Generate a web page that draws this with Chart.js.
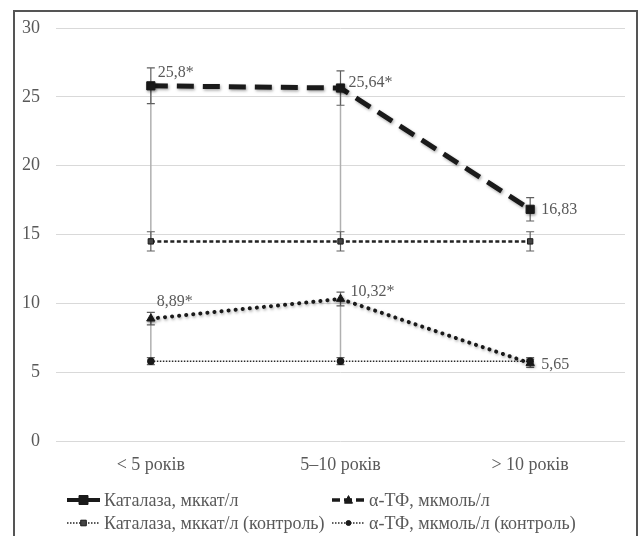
<!DOCTYPE html>
<html>
<head>
<meta charset="utf-8">
<script src="https://cdn.jsdelivr.net/npm/chart.js@4.4.1/dist/chart.umd.min.js"></script>
<style>
  html, body { margin: 0; padding: 0; background: #fff; }
  #wrap { position: relative; width: 643px; height: 536px; }
</style>
</head>
<body>
<div id="wrap"><canvas id="myChartLine" width="643" height="536"></canvas></div>
<script>
var categories = ['< 5 років', '5–10 років', '> 10 років'];
var catalase = [25.8, 25.64, 16.83];
var catalaseErr = [1.3, 1.25, 0.85];
var catalaseLabels = ['25,8*', '25,64*', '16,83'];
var catalaseControl = [14.5, 14.5, 14.5];
var catalaseControlErr = [0.7, 0.7, 0.7];
var tf = [8.89, 10.32, 5.65];
var tfErr = [0.45, 0.5, 0.3];
var tfLabels = ['8,89*', '10,32*', '5,65'];
var tfControl = [5.8, 5.8, 5.8];
var tfControlErr = [0.25, 0.25, 0.25];
var significant = [true, true, false];
var yTicks = [0, 5, 10, 15, 20, 25, 30];

var FONT = "'Liberation Serif', 'Times New Roman', serif";
var TXT = '#595959';

// вертикальна лінія з "вусами"
function drawErrBar(ctx, x, yScale, v, e) {
    var top = yScale.getPixelForValue(v + e);
    var bot = yScale.getPixelForValue(v - e);
    ctx.beginPath();
    ctx.moveTo(x, top); ctx.lineTo(x, bot);
    ctx.moveTo(x - 4, top); ctx.lineTo(x + 4, top);
    ctx.moveTo(x - 4, bot); ctx.lineTo(x + 4, bot);
    ctx.stroke();
}

function drawMarker(ctx, style, x, y, r) {
    ctx.beginPath();
    if (style === 'rect') {
        ctx.rect(x - r, y - r, 2 * r, 2 * r);
    } else if (style === 'triangle') {
        ctx.moveTo(x, y - r * 1.1);
        ctx.lineTo(x + r, y + r * 0.8);
        ctx.lineTo(x - r, y + r * 0.8);
        ctx.closePath();
    } else {
        ctx.arc(x, y, r, 0, Math.PI * 2);
    }
    ctx.fill();
    ctx.stroke();
}

var extras = {
    id: 'extras',
    beforeDraw: function(chart) {
        var ctx = chart.ctx;
        ctx.save();
        ctx.strokeStyle = '#555';
        ctx.lineWidth = 2;
        ctx.strokeRect(14, 11, 623, 560);
        ctx.restore();
    },
    beforeDatasetsDraw: function(chart) {
        var ctx = chart.ctx;
        var y = chart.scales.y;
        ctx.save();
        // сірі лінії між показником і контролем
        ctx.strokeStyle = '#b0b0b0';
        ctx.lineWidth = 1.5;
        [[0, 2], [1, 3]].forEach(function(pair) {
            var a = chart.getDatasetMeta(pair[0]).data;
            var dsA = chart.data.datasets[pair[0]].data;
            var dsB = chart.data.datasets[pair[1]].data;
            for (var i = 0; i < a.length; i++) {
                if (!significant[i]) continue;
                ctx.beginPath();
                ctx.moveTo(a[i].x, y.getPixelForValue(dsA[i]));
                ctx.lineTo(a[i].x, y.getPixelForValue(dsB[i]));
                ctx.stroke();
            }
        });
        ctx.strokeStyle = '#606060';
        ctx.lineWidth = 1.2;
        chart.data.datasets.forEach(function(ds, k) {
            var pts = chart.getDatasetMeta(k).data;
            pts.forEach(function(p, i) {
                drawErrBar(ctx, p.x, y, ds.data[i], ds.errors[i]);
            });
        });
        ctx.restore();
    },
    beforeDatasetDraw: function(chart, args) {
        if (args.index < 2) {
            var ctx = chart.ctx;
            ctx.shadowColor = 'rgba(0,0,0,0.35)';
            ctx.shadowBlur = 3;
            ctx.shadowOffsetX = 1;
            ctx.shadowOffsetY = 1.5;
        }
    },
    afterDatasetDraw: function(chart) {
        var ctx = chart.ctx;
        ctx.shadowColor = 'transparent';
        ctx.shadowBlur = 0;
        ctx.shadowOffsetX = 0;
        ctx.shadowOffsetY = 0;
    },
    afterDatasetsDraw: function(chart) {
        var ctx = chart.ctx;
        ctx.save();
        ctx.font = '16px ' + FONT;
        ctx.fillStyle = TXT;
        ctx.textAlign = 'left';
        ctx.textBaseline = 'middle';
        chart.data.datasets.forEach(function(ds, k) {
            if (!ds.valueLabels) return;
            chart.getDatasetMeta(k).data.forEach(function(p, i) {
                ctx.fillText(ds.valueLabels[i], p.x + ds.labelShift[i][0], p.y + ds.labelShift[i][1]);
            });
        });
        ctx.restore();
    },
    afterDraw: function(chart) {
        // легенда у дві колонки
        var ctx = chart.ctx;
        var slots = [[67, 500], [332, 500], [67, 523], [332, 523]];
        ctx.save();
        chart.data.datasets.forEach(function(ds, k) {
            var x = slots[k][0], y = slots[k][1];
            ctx.strokeStyle = ds.borderColor;
            ctx.lineWidth = ds.legendWidth;
            ctx.setLineDash(ds.legendDash);
            ctx.lineCap = 'butt';
            ctx.beginPath();
            ctx.moveTo(x, y); ctx.lineTo(x + 33, y);
            ctx.stroke();
            ctx.setLineDash([]);
            ctx.fillStyle = ds.pointBackgroundColor;
            ctx.strokeStyle = ds.pointBorderColor;
            ctx.lineWidth = 1;
            drawMarker(ctx, ds.pointStyle, x + 16.5, y, ds.legendRadius);
            ctx.fillStyle = TXT;
            ctx.font = '18px ' + FONT;
            ctx.textAlign = 'left';
            ctx.textBaseline = 'middle';
            ctx.fillText(ds.label, x + 37, y + 1);
        });
        ctx.restore();
    }
};

var ctxLine = document.getElementById('myChartLine');
var myChartLine = new Chart(ctxLine, {
    type: 'line',
    data: {
        labels: categories,
        datasets: [{
            label: 'Каталаза, мккат/л',
            data: catalase,
            errors: catalaseErr,
            valueLabels: catalaseLabels,
            labelShift: [[7, -13], [8, -5], [11, 0]],
            borderColor: '#1a1a1a',
            borderWidth: 5,
            borderDash: [17, 9],
            pointStyle: 'rect',
            pointRadius: 5.8,
            pointBorderWidth: 1,
            pointBackgroundColor: '#1a1a1a',
            pointBorderColor: '#1a1a1a',
            legendWidth: 4,
            legendDash: [],
            legendRadius: 4.5
        }, {
            label: 'α-ТФ, мкмоль/л',
            data: tf,
            errors: tfErr,
            valueLabels: tfLabels,
            labelShift: [[6, -17], [10, -7], [11, 2]],
            borderColor: '#1a1a1a',
            borderWidth: 4,
            borderDash: [0.1, 7],
            borderCapStyle: 'round',
            pointStyle: 'triangle',
            pointRadius: 4.8,
            pointBorderWidth: 1,
            pointBackgroundColor: '#1a1a1a',
            pointBorderColor: '#1a1a1a',
            legendWidth: 3.5,
            legendDash: [8, 4],
            legendRadius: 4
        }, {
            label: 'Каталаза, мккат/л (контроль)',
            data: catalaseControl,
            errors: catalaseControlErr,
            borderColor: '#222',
            borderWidth: 2.5,
            borderDash: [4, 2.5],
            pointStyle: 'rect',
            pointRadius: 3.8,
            pointBorderWidth: 1,
            pointBackgroundColor: '#444',
            pointBorderColor: '#1a1a1a',
            legendWidth: 1.5,
            legendDash: [1.5, 1.5],
            legendRadius: 2.8
        }, {
            label: 'α-ТФ, мкмоль/л (контроль)',
            data: tfControl,
            errors: tfControlErr,
            borderColor: '#2a2a2a',
            borderWidth: 1.5,
            borderDash: [1.5, 1.5],
            pointStyle: 'circle',
            pointRadius: 3,
            pointBackgroundColor: '#1a1a1a',
            pointBorderColor: '#1a1a1a',
            legendWidth: 1.5,
            legendDash: [1.5, 1.5],
            legendRadius: 2.5
        }]
    },
    options: {
        responsive: false,
        animation: false,
        devicePixelRatio: 1,
        layout: { padding: { left: 0, right: 18, top: 28, bottom: 0 } },
        plugins: {
            legend: { display: false },
            tooltip: { enabled: false }
        },
        elements: { line: { tension: 0 } },
        scales: {
            x: {
                offset: true,
                grid: { display: false },
                border: { display: false },
                ticks: { color: TXT, font: { family: FONT, size: 18 }, padding: 5 },
                afterFit: function(s) { s.height = 95; }
            },
            y: {
                min: 0,
                max: 30,
                grid: { color: '#d9d9d9', lineWidth: 1, drawTicks: false },
                border: { display: false },
                ticks: { color: TXT, font: { family: FONT, size: 18 }, padding: 16 },
                afterBuildTicks: function(s) { s.ticks = yTicks.map(function(v) { return { value: v }; }); },
                afterFit: function(s) { s.width = 56; }
            }
        }
    },
    plugins: [extras]
});
</script>
</body>
</html>
